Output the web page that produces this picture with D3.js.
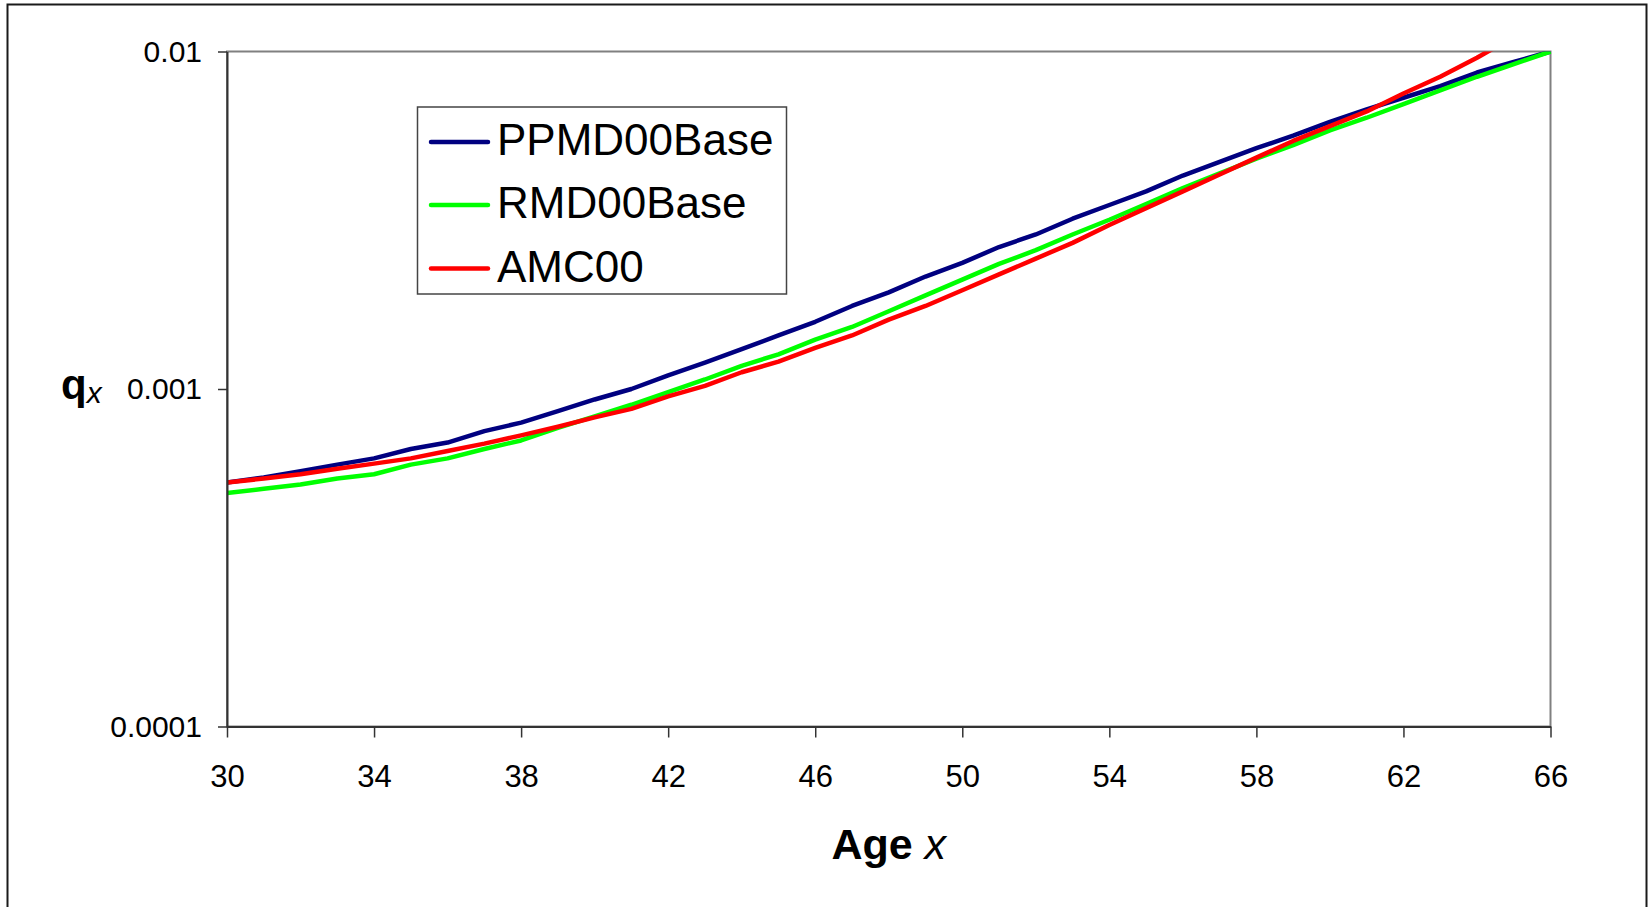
<!DOCTYPE html>
<html>
<head>
<meta charset="utf-8">
<script src="https://cdn.jsdelivr.net/npm/d3@7/dist/d3.min.js"></script>
<style>
  html, body { margin: 0; padding: 0; background: #fff; }
  svg { display: block; font-family: "Liberation Sans", Arial, sans-serif; }
</style>
</head>
<body>
<svg id="chart" width="1652" height="907"></svg>
<script>
// ---- data ----
const ages = d3.range(30, 67);
const seriesNames = ["PPMD00Base", "RMD00Base", "AMC00"];
const seriesColors = ["#000080", "#00FF00", "#FF0000"];
const ppmd00Base = [0.000528, 0.000547, 0.000571, 0.000597, 0.000623, 0.000664, 0.000694, 0.000750, 0.000795, 0.000860,
  0.000931, 0.001000, 0.001098, 0.001197, 0.001313, 0.001441, 0.001582, 0.001762, 0.001934, 0.002154,
  0.002365, 0.002634, 0.002870, 0.003196, 0.003509, 0.003852, 0.004290, 0.004710, 0.005171, 0.005633,
  0.006184, 0.006741, 0.007293, 0.007894, 0.008664, 0.009308, 0.010000];
const rmd00Base = [0.000492, 0.000506, 0.000521, 0.000543, 0.000559, 0.000597, 0.000623, 0.000664, 0.000704, 0.000767,
  0.000830, 0.000898, 0.000979, 0.001067, 0.001171, 0.001267, 0.001401, 0.001527, 0.001700, 0.001894,
  0.002109, 0.002348, 0.002578, 0.002870, 0.003173, 0.003534, 0.003936, 0.004352, 0.004811, 0.005281,
  0.005839, 0.006364, 0.006984, 0.007671, 0.008417, 0.009176, 0.010000];
const amc00 = [0.000528, 0.000543, 0.000559, 0.000580, 0.000601, 0.000623, 0.000655, 0.000689, 0.000729, 0.000773,
  0.000824, 0.000873, 0.000951, 0.001022, 0.001121, 0.001205, 0.001323, 0.001441, 0.001605, 0.001762,
  0.001962, 0.002186, 0.002434, 0.002710, 0.003062, 0.003435, 0.003852, 0.004321, 0.004847, 0.005433,
  0.006010, 0.006644, 0.007505, 0.008417, 0.009579, 0.011056, 0.012673];
const xTicks = [30, 34, 38, 42, 46, 50, 54, 58, 62, 66];
const yTicks = [0.0001, 0.001, 0.01];
const yTickLabels = ["0.0001", "0.001", "0.01"];

const seriesValues = [ppmd00Base, rmd00Base, amc00];

// ---- layout ----
const svg = d3.select("#chart");
const plot = { left: 227, right: 1550.5, top: 51.5, bottom: 726.5 };

const x = d3.scaleLinear().domain([30, 66]).range([plot.left, plot.right]);
const y = d3.scaleLog().domain([0.0001, 0.01]).range([plot.bottom, plot.top]);

// outer frame
svg.append("rect")
  .attr("x", 7.5).attr("y", 4.5)
  .attr("width", 1639).attr("height", 920)
  .attr("fill", "none").attr("stroke", "#1a1a1a").attr("stroke-width", 2);

// plot border (gray top/right)
svg.append("rect")
  .attr("x", plot.left).attr("y", plot.top)
  .attr("width", plot.right - plot.left).attr("height", plot.bottom - plot.top)
  .attr("fill", "#fff").attr("stroke", "#808080").attr("stroke-width", 2);

// clip
svg.append("defs").append("clipPath").attr("id", "plotClip")
  .append("rect")
  .attr("x", plot.left).attr("y", plot.top)
  .attr("width", plot.right - plot.left + 4).attr("height", plot.bottom - plot.top);

// lines
const line = d3.line().x(d => x(d[0])).y(d => y(d[1]));
const lineG = svg.append("g").attr("clip-path", "url(#plotClip)");
seriesValues.forEach((vals, i) => {
  lineG.append("path")
    .datum(ages.map((a, k) => [a, vals[k]]))
    .attr("d", line)
    .attr("fill", "none")
    .attr("stroke", seriesColors[i])
    .attr("stroke-width", 4.5)
    .attr("stroke-linejoin", "round");
});

// y axis
const yAxis = d3.axisLeft(y)
  .tickValues(yTicks)
  .tickFormat((d, i) => yTickLabels[i])
  .tickSize(9).tickSizeOuter(0).tickPadding(16);
const yG = svg.append("g").attr("transform", `translate(${plot.left},0)`).call(yAxis);
yG.select(".domain").attr("stroke", "#333").attr("stroke-width", 2);
yG.selectAll(".tick line").attr("stroke", "#333").attr("stroke-width", 1.5);
yG.selectAll(".tick text")
  .attr("font-size", 30).attr("fill", "#000")
  .attr("font-family", "'Liberation Sans', Arial, sans-serif");

// x axis
const xAxis = d3.axisBottom(x)
  .tickValues(xTicks)
  .tickSize(11).tickSizeOuter(0).tickPadding(27);
const xG = svg.append("g").attr("transform", `translate(0,${plot.bottom})`).call(xAxis);
xG.select(".domain").attr("stroke", "#333").attr("stroke-width", 2);
xG.selectAll(".tick line").attr("stroke", "#333").attr("stroke-width", 1.5);
xG.selectAll(".tick text")
  .attr("font-size", 31).attr("fill", "#000")
  .attr("font-family", "'Liberation Sans', Arial, sans-serif");

// x axis title
const xt = svg.append("text")
  .attr("x", (plot.left + plot.right) / 2).attr("y", 859)
  .attr("text-anchor", "middle").attr("font-size", 43).attr("fill", "#000");
xt.append("tspan").attr("font-weight", "bold").text("Age ");
xt.append("tspan").attr("font-style", "italic").text("x");

// y axis title
const yt = svg.append("text")
  .attr("x", 61).attr("y", 399)
  .attr("fill", "#000");
yt.append("tspan").attr("font-weight", "bold").attr("font-size", 42).text("q");
yt.append("tspan").attr("font-style", "italic").attr("font-size", 30).attr("dy", 4).text("x");

// legend
const leg = svg.append("g");
leg.append("rect")
  .attr("x", 417.5).attr("y", 107).attr("width", 369).attr("height", 187)
  .attr("fill", "#fff").attr("stroke", "#444").attr("stroke-width", 1.5);
const legBase = [155, 218, 281.5];
seriesNames.forEach((name, i) => {
  leg.append("line")
    .attr("x1", 431).attr("x2", 488)
    .attr("y1", legBase[i] - 13).attr("y2", legBase[i] - 13)
    .attr("stroke", seriesColors[i]).attr("stroke-width", 4.5)
    .attr("stroke-linecap", "round");
  leg.append("text")
    .attr("x", 497).attr("y", legBase[i])
    .attr("font-size", 44).attr("fill", "#000")
    .text(name);
});
</script>
</body>
</html>
